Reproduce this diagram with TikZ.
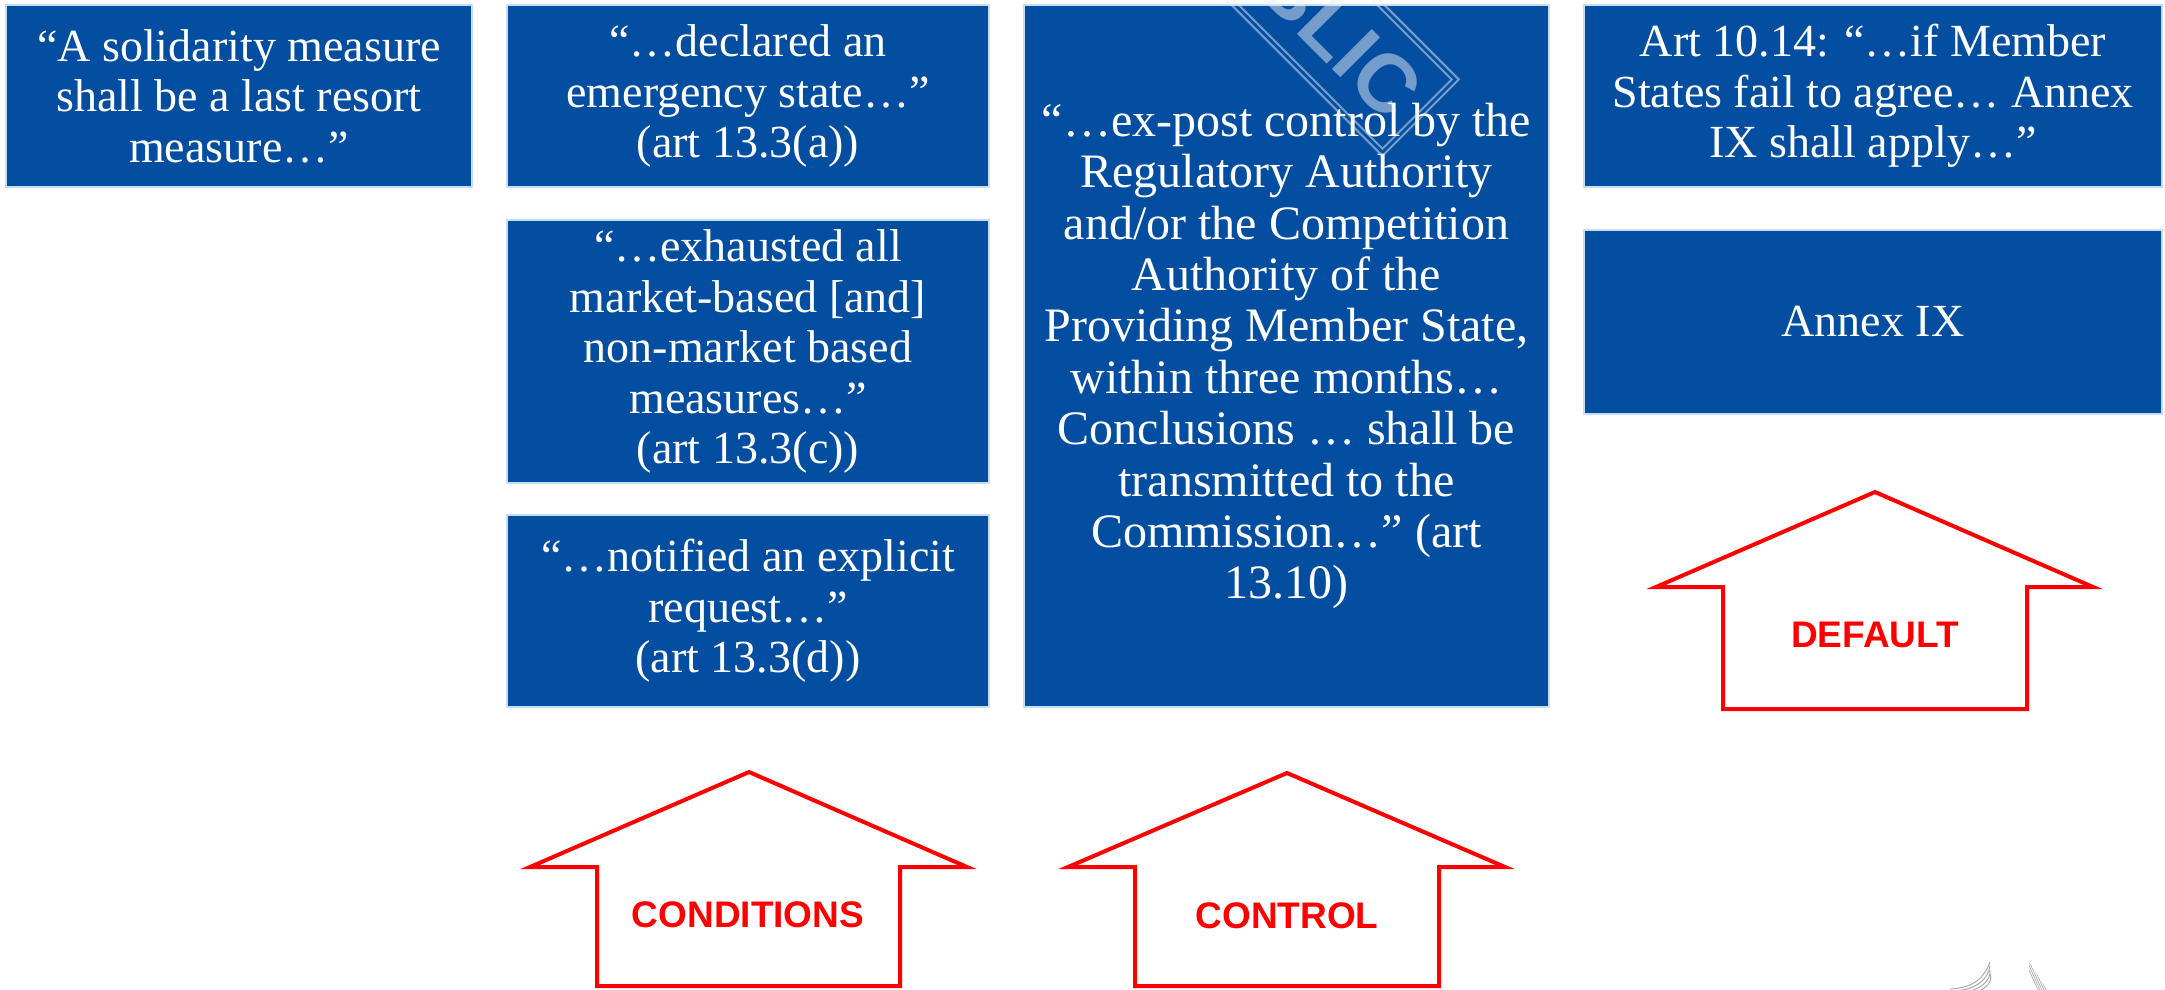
\documentclass[tikz,border=0pt]{standalone}
\usepackage{fontspec}
\setmainfont{Liberation Serif}
\newfontfamily\tagfont{Liberation Sans}
\usetikzlibrary{calc}
\definecolor{boxblue}{RGB}{4,78,162}
\definecolor{boxedge}{RGB}{198,222,243}
\definecolor{stampgray}{RGB}{230,235,245}
\definecolor{logogray}{RGB}{170,170,170}
\begin{document}
\begin{tikzpicture}[x=1pt,y=-1pt,
  quote/.style={draw=boxedge, line width=2.5pt, fill=boxblue, text=white,
    align=center, inner sep=0pt, font=\fontsize{46}{50.5}\selectfont},
  bigquote/.style={quote, font=\fontsize{48}{51.4}\selectfont},
  uparrow/.style={draw=red, line width=4pt, line join=miter, fill=white},
  tag/.style={text=red, font=\tagfont\bfseries\fontsize{37}{40}\selectfont, inner sep=0pt},
  stampline/.style={draw=stampgray, draw opacity=0.5, line width=2pt}]
\useasboundingbox (0,0) rectangle (2165,989);

% quotation boxes
\node[quote, minimum width=466, minimum height=182] (resort) at (239,96)
  {“A solidarity measure\\shall be a last resort\\measure…”};
\node[quote, minimum width=482, minimum height=182] (emergency) at (748,96)
  {“…declared an\\emergency state…”\\(art 13.3(a))};
\node[quote, minimum width=482, minimum height=263] (exhausted) at (748,351.5)
  {“…exhausted all\\market-based [and]\\non-market based\\measures…”\\(art 13.3(c))};
\node[quote, minimum width=482, minimum height=192] (request) at (748,611)
  {“…notified an explicit\\request…”\\(art 13.3(d))};
\node[bigquote, minimum width=525, minimum height=702] (expost) at (1286.5,356)
  {“…ex-post control by the\\Regulatory Authority\\and/or the Competition\\Authority of the\\Providing Member State,\\within three months…\\Conclusions … shall be\\transmitted to the\\Commission…” (art\\13.10)};
\node[quote, minimum width=578, minimum height=182] (art1014) at (1873,96)
  {Art 10.14: “…if Member\\States fail to agree… Annex\\IX shall apply…”};
\node[quote, minimum width=578, minimum height=184] (annex) at (1873,322)
  {Annex IX};

% block arrows pointing up at the columns
\draw[uparrow] (749,772) -- (967,867) -- (900,867) -- (900,986) -- (597,986)
  -- (597,867) -- (530,867) -- cycle;
\node[tag] (conditions) at (748,915) {CONDITIONS};

\draw[uparrow] (1287,773) -- (1505,867) -- (1439,867) -- (1439,986) -- (1135,986)
  -- (1135,867) -- (1068,867) -- cycle;
\node[tag] (control) at (1287,916) {CONTROL};

\draw[uparrow] (1875,492) -- (2093,587) -- (2027,587) -- (2027,709) -- (1723,709)
  -- (1723,587) -- (1656,587) -- cycle;
\node[tag] (default) at (1875,635) {DEFAULT};

% corner of the logo at the bottom edge
\begin{scope}
  \clip (1900,940) rectangle (2165,989);
  \foreach \i in {0,1,2,3}
    \draw[logogray, line width=1pt]
      ($(1950,989)+(3*\i,2*\i)$) .. controls ($(1975,988)+(3*\i,2*\i)$) and ($(1985,976)+(3*\i,2*\i)$) .. ($(1990,962)+(0,4*\i)$);
  \clip (2029,962) -- (2029,990) -- (2047,990) -- cycle;
  \foreach \k in {0,...,14}
    \draw[logogray, line width=0.7pt] (2020+2*\k,950) -- ++(18,40);
\end{scope}

% watermark stamp across the top
\begin{scope}
  \clip (0,0) rectangle (2165,989);
  \begin{scope}[shift={(1299,-4)}, rotate=-45]
    \draw[stampline] (-172,-54) rectangle (172,54);
    \draw[stampline] (-167,-49) rectangle (167,49);
    \node[text=stampgray, text opacity=0.5, rotate=-45, inner sep=0pt,
      font=\tagfont\bfseries\fontsize{82}{82}\selectfont] (stamp) at (0,0) {PUBLIC};
  \end{scope}
\end{scope}
\end{tikzpicture}
\end{document}
